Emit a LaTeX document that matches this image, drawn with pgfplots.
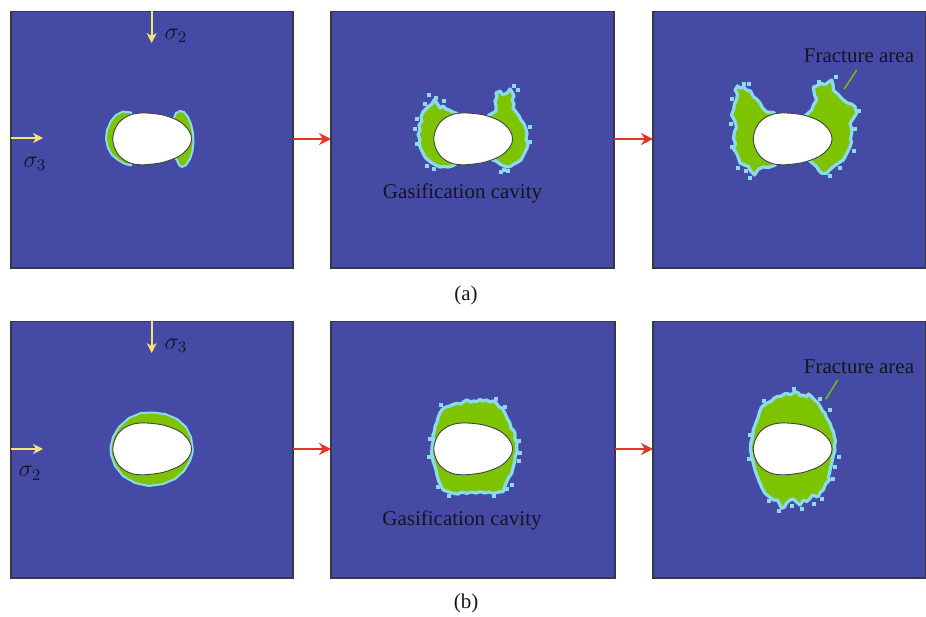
\documentclass[border=0pt]{standalone}
\usepackage{pgfplots}
\pgfplotsset{compat=1.18}
\usepackage{pgfplotstable}
\usepackage{fontspec}
\setmainfont{Liberation Serif}
\usetikzlibrary{arrows.meta}
\definecolor{bgblue}{RGB}{69,75,165}
\definecolor{frgreen}{RGB}{125,195,0}
\definecolor{halo}{RGB}{140,218,240}
\definecolor{framec}{RGB}{55,55,70}
\definecolor{txt}{RGB}{20,20,35}
\definecolor{yarr}{RGB}{245,228,110}
\definecolor{rarr}{RGB}{228,52,40}

% cavity outline (pixels, relative to cavity centre)
\pgfplotstableread{
x y
0.0 25.5
-10.4 26.1
-20.0 24.9
-28.3 21.4
-34.6 15.8
-38.6 8.4
-40.3 0
-38.6 -8.4
-34.6 -15.8
-28.3 -21.4
-20.0 -24.9
-10.4 -25.8
0.0 -25.0
9.0 -23.6
18.0 -20.8
25.0 -17.8
30.0 -14.5
34.0 -10.5
36.5 -7.0
38.0 -3.8
38.5 0
38.0 3.8
36.5 7.3
34.0 11.0
30.0 15.0
25.0 18.5
18.0 21.5
9.0 24.2
0.0 25.5
}\egg

% (a) step 1
\pgfplotstableread{
x y
-20 0
-22 26.5
-30 27.5
-37 24
-42 18
-46 9
-47 0
-45 -9
-41 -16
-35 -21
-28 -25
-22 -26.5
-20 0
}\aOneL
\pgfplotstableread{
x y
20 0
21 21
23 26
27 28
31 27
35 22
38 15
40 6
40.5 -3
39.5 -12
37 -20
33 -26
29 -28
26 -26
24 -21
20 -17
20 0
}\aOneR

% (a) step 2
\pgfplotstableread{
x y
-20 0
-15 22
-17 25.5
-21 27
-25 29
-28 30
-31 33
-34 31
-37 36
-40 39
-42 35
-45 33
-48 30
-51 27
-53 22
-52 18
-55 14
-54 9
-56 4
-54 0
-55 -5
-53 -10
-51 -14
-49 -18
-46 -21
-42 -24
-38 -26
-34 -28
-30 -27.5
-26 -28
-22 -27
-18 -25
-20 0
}\aTwoL
\pgfplotstableread{
x y
20 0
12 20
15 24
19 26
22 28
22 33
21 38
23 42
22 46
26 48
29 44
33 46
36 50
38 47
40 43
38 39
40 35
39 31
42 27
45 23
47 19
50 15
52 10
53 5
52 0
54 -5
53 -9
51 -13
49 -17
47 -21
44 -23
40 -25
37 -27
34 -28
30 -27
26 -25
22 -22
16 -20
20 0
}\aTwoR
\pgfplotstableread{
x y
-45 44
-38 41
-30 38
-49 35
-57 20
-57 -5
-47 -27
-40 -30
30 -31
34 -32
27 -33
56 12
56 -3
40 53
44 49
-59 10
}\aTwoS

% (a) step 3
\pgfplotstableread{
x y
-20 0
-15 22
-20 26.5
-27 27
-31 31
-33.5 36
-37 40
-40 42
-43 48
-46.8 49
-50 52
-53.5 51
-56 53
-58.5 49
-56 45
-57 39
-59 35
-60 29
-62 24
-59 19
-57 12
-59 7
-60 1
-58 -5
-60 -10
-57 -14
-55 -19
-53.5 -24
-49 -26
-45 -27.5
-43 -32
-39 -36
-35 -30
-30 -28
-25 -28.5
-18 -26
-20 0
}\aThrL
\pgfplotstableread{
x y
20 0
10 22
13.2 24.5
18.2 29
20 34
23.2 39
21 44
19.8 52
23 53
28.2 55.7
31 54
35 57
38.2 59
39.8 53
39.8 49
43 46
46 43
49.8 39
54 36
58 35
61.5 32.3
63.2 25.7
60 21
56.5 15.7
58.2 10
58.2 5.7
57 0
58 -3
56.5 -7.7
54 -13
52 -17
49.8 -21
45 -24
39.8 -27.7
36 -31
33.2 -34.3
28.2 -34.3
25 -31
23.2 -27.7
20 -25
14 -20
20 0
}\aThrR
\pgfplotstableread{
x y
-50 55
-62 40
-63 15
-62 -8
-56 -29
-44 -39
-48 -32
46 -29
36 -37
65 28
61 10
60 -12
42 62
25 57
-45 55
}\aThrS

% (b) step 1
\pgfplotstableread{
x y
39.5 2
38 12
33 22
24 30
12 35
0 36.5
-12 36
-24 31
-34 22
-40 12
-42.5 2
-42 -6
-38 -17
-30 -27
-18 -34
-4 -37
10 -35
22 -30
31 -22
37 -12
39.5 -4
39.5 2
}\bOne

% (b) step 2
\pgfplotstableread{
x y
-32.3 39
-30 41
-27.3 42.3
-24 43
-21 44.5
-17.3 45.7
-13 45
-10 47.5
-7.3 49
-3 47
0 48
2.7 47.3
6 49.5
9 48
12.7 49
16 47
19 48
22.7 45.7
25 42
28 41
31 35.7
33 31
36 25.7
37 21
40 18
41 15.7
41 10
43 6
42.7 2.3
43 -3
41 -8
41 -11
39.5 -17
38.5 -21
37.7 -24.3
35 -28
32.7 -32.7
31 -37
29.3 -42.7
25 -43
19.3 -44.3
15 -43
11 -44
6 -42.7
2 -44
-3 -43
-7.3 -44.3
-12 -43
-16 -45
-20.7 -44.3
-25 -43
-30.7 -41
-33 -37
-35.7 -31
-37 -26
-38 -21
-39 -17.7
-41 -12
-42.3 -4.3
-42 2
-40.7 9
-41 14
-39.5 18
-39 22.3
-37 27
-35.7 32.3
-34 36
-32.3 39
}\bTwo
\pgfplotstableread{
x y
-45 -8
-44 10
-36 -38
-25 -47
20 -47
33 -40
45 -12
46 -4
38 -36
45 8
-33 44
22 50
31 42
}\bTwoS

% (b) step 3
\pgfplotstableread{
x y
-31.8 42.3
-29 44
-26.8 45.7
-22 48
-19 51
-16.8 52.3
-12 53
-9 55
-6.8 55.7
-3 54
1.5 57.3
5 56
7 53
9.8 54
13 52
15 55
18.2 52.3
21 49
24.8 45.7
27 42
29 38
31.5 35.7
33 31
35 28
36.5 25.7
38 21
40 17
40.8 12.3
42 8
41 3
41.5 -1
40 -6
39 -10
38.2 -14.3
37 -19
36 -24
34.8 -27.7
36 -31
32 -35
29.8 -41
27 -43
25 -47
23.2 -47.7
19 -46
16 -50
13.2 -52.7
10 -51
6.5 -56
3 -53
0 -50
-3.5 -51
-7 -54
-9 -58
-11.8 -59.3
-14 -55
-16 -51
-20.2 -51
-24 -48
-28.5 -44.3
-31 -40
-33.5 -34.3
-36 -28
-38.5 -21
-40 -15
-41.8 -7.7
-43 -1
-42.8 5.7
-41 12
-40.2 19
-38 25
-35.2 32.3
-34 37
-31.8 42.3
}\bThr
\pgfplotstableread{
x y
28 -50
20 -55
8 -60
-2 -57
-15 -62
-25 -52
41 -18
45 -8
39 -30
-45 -10
-44 14
-30 48
0 60
26 50
36 39
}\bThrS

\pgfplotsset{
  panel/.style={x=0.5pt, y=0.5pt, ymin=-129, ymax=127.5, ticks=none, clip=false,
    axis line style={draw=framec, line width=0.8pt},
    axis background/.style={fill=bgblue}, anchor=south west},
  frac/.style={fill=frgreen, draw=halo, line width=1.0pt, line join=round},
  fracj/.style={fill=frgreen, draw=halo, line width=1.6pt, line join=round},
  cav/.style={fill=white, draw=black!75, line width=0.45pt, smooth},
  speck/.style={only marks, mark=square*, mark size=0.7pt, mark options={fill=halo, draw=halo}},
  yarrow/.style={yarr, line width=0.8pt, -{Stealth[length=5pt, width=5pt, inset=1.5pt]}},
  rarrow/.style={rarr, line width=0.8pt, -{Stealth[length=6pt, width=6pt, inset=2pt]}},
  lead/.style={frgreen, line width=0.7pt},
}
\newcommand{\lbl}{\fontsize{10.5}{12}\selectfont\color{txt}}
\newcommand{\sig}{\fontsize{12}{14}\selectfont\color{txt}}

\begin{document}
\begin{tikzpicture}
\useasboundingbox (0,0) rectangle (463pt,308pt);

% ---------- (a) ----------
\begin{axis}[panel, xmin=-142, xmax=140, at={(5.5pt,174pt)}]
  \addplot[frac] table {\aOneL};
  \addplot[frac] table {\aOneR};
  \addplot[cav] table {\egg};
  \addplot[yarrow] coordinates {(-1.3,127.5) (-1.3,96)};
  \addplot[yarrow] coordinates {(-142,1) (-110,1)};
  \node[font=\sig] at (axis cs:23,103) {$\sigma_2$};
  \node[font=\sig] at (axis cs:-118,-25) {$\sigma_3$};
  \addplot[rarrow] coordinates {(140,0) (178,0)};
\end{axis}

\begin{axis}[panel, xmin=-143, xmax=140, at={(165.5pt,174pt)}]
  \addplot[speck] table {\aTwoS};
  \addplot[fracj] table {\aTwoL};
  \addplot[fracj] table {\aTwoR};
  \addplot[cav] table {\egg};
  \node[font=\lbl] at (axis cs:-11.5,-54.5) {Gasification cavity};
  \node[font=\lbl] at (axis cs:-8,-156) {(a)};
  \addplot[rarrow] coordinates {(140,0) (179,0)};
\end{axis}

\begin{axis}[panel, xmin=-140.5, xmax=132.5, at={(326.5pt,174pt)}]
  \addplot[speck] table {\aThrS};
  \addplot[fracj] table {\aThrL};
  \addplot[fracj] table {\aThrR};
  \addplot[cav] table {\egg};
  \addplot[lead] coordinates {(63.2,69) (50.5,49.7)};
  \node[font=\lbl] at (axis cs:65.5,83) {Fracture area};
\end{axis}

% ---------- (b) ----------
\begin{axis}[panel, xmin=-142, xmax=140, at={(5.5pt,19pt)}]
  \addplot[frac] table {\bOne};
  \addplot[cav] table {\egg};
  \addplot[yarrow] coordinates {(-1.3,127.5) (-1.3,96)};
  \addplot[yarrow] coordinates {(-142,0) (-110,0)};
  \node[font=\sig] at (axis cs:23,103) {$\sigma_3$};
  \node[font=\sig] at (axis cs:-123,-24.5) {$\sigma_2$};
  \addplot[rarrow] coordinates {(140,0) (178,0)};
\end{axis}

\begin{axis}[panel, xmin=-143, xmax=141, at={(165.5pt,19pt)}]
  \addplot[speck] table {\bTwoS};
  \addplot[fracj] table {\bTwo};
  \addplot[cav] table {\egg};
  \node[font=\lbl] at (axis cs:-12,-71) {Gasification cavity};
  \node[font=\lbl] at (axis cs:-8,-154) {(b)};
  \addplot[rarrow] coordinates {(141,0) (179,0)};
\end{axis}

\begin{axis}[panel, xmin=-140.5, xmax=132.5, at={(326.5pt,19pt)}]
  \addplot[speck] table {\bThrS};
  \addplot[fracj] table {\bThr};
  \addplot[cav] table {\egg};
  \addplot[lead] coordinates {(44.2,69) (32.2,49.7)};
  \node[font=\lbl] at (axis cs:65.5,82.5) {Fracture area};
\end{axis}
\end{tikzpicture}
\end{document}
